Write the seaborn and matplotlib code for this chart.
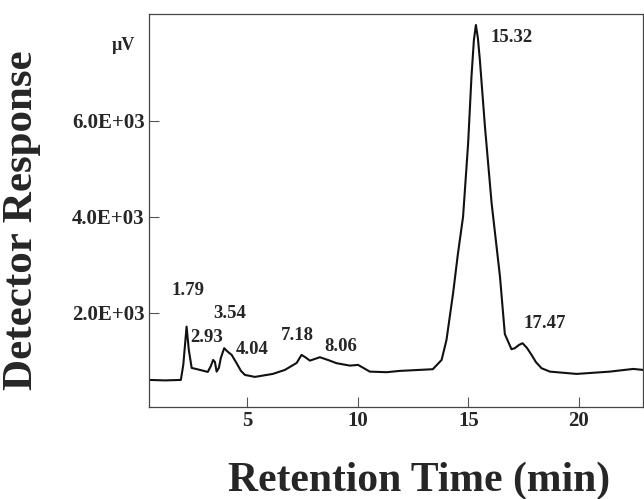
import pandas as pd
import matplotlib
matplotlib.use("Agg")
import matplotlib.pyplot as plt
import seaborn as sns

# chromatogram trace (min, µV)
time_min = [0.55, 1.27, 1.99, 2.10, 2.25, 2.35, 2.48, 2.85, 3.21, 3.35, 3.45, 3.53,
            3.61, 3.71, 3.80, 3.95, 4.12, 4.29, 4.48, 4.71, 4.89, 5.34, 6.15, 6.70,
            7.23, 7.45, 7.60, 7.83, 8.28, 8.64, 9.04, 9.64, 10.01, 10.54, 11.30, 11.90,
            13.39, 13.79, 14.01, 14.31, 14.52, 14.76, 14.99, 15.14, 15.25, 15.34, 15.43,
            15.52, 15.75, 16.05, 16.43, 16.65, 16.95, 17.10, 17.29, 17.45, 17.65, 17.86,
            18.05, 18.31, 18.69, 19.90, 21.40, 22.46, 22.90]
response = [604, 594, 604, 917, 1715, 1229, 854, 813, 771, 896, 1021, 979,
            777, 854, 1063, 1265, 1188, 1125, 979, 792, 708, 667, 729, 813,
            958, 1125, 1083, 1006, 1077, 1021, 952, 902, 917, 777, 765, 792,
            827, 1021, 1438, 2417, 3208, 4006, 5542, 6923, 7688, 8000, 7729,
            7271, 5881, 4292, 2756, 1560, 1244, 1265, 1333, 1369, 1271, 1125,
            979, 848, 777, 729, 777, 833, 813]

# peak labels and where they sit
peak_labels = ["1.79", "2.93", "3.54", "4.04", "7.18", "8.06", "15.32", "17.47"]
label_x = [2.31, 3.17, 4.21, 5.20, 7.28, 9.25, 16.95, 18.46]
label_y = [2465, 1479, 1979, 1229, 1521, 1292, 7744, 1771]

yticks = [2000, 4000, 6000]
ytick_labels = ["2.0E+03", "4.0E+03", "6.0E+03"]
xticks = [5, 10, 15, 20]

sns.set_style("ticks")
plt.rcParams["font.family"] = ["Liberation Serif", "DejaVu Serif"]
plt.rcParams["font.weight"] = "bold"

df = pd.DataFrame({"t": time_min, "r": response})

fig = plt.figure(figsize=(6.44, 4.99), dpi=100)
ax = fig.add_axes([0.2314, 0.1844, 0.767, 0.7876])
sns.lineplot(data=df, x="t", y="r", color="#111111", linewidth=1.5, ax=ax)

for lab, x, y in zip(peak_labels, label_x, label_y):
    ax.text(x, y, lab, ha="center", va="center", fontsize=13.5, fontweight="bold")

ax.text(-0.052, 0.92, "µV", transform=ax.transAxes, ha="center", va="center",
        fontsize=13, fontweight="bold")

ax.set_xlim(0.55, 22.9)
ax.set_ylim(40, 8230)
ax.set_xticks(xticks)
ax.set_yticks(yticks)
ax.set_yticklabels(ytick_labels)
ax.tick_params(axis="both", direction="in", length=7, width=0.8, pad=3,
               labelsize=15, color="#555555")
for s in ax.spines.values():
    s.set_linewidth(0.9)
    s.set_color("#444444")

ax.set_xlabel("Retention Time (min)", fontsize=30, fontweight="bold")
ax.set_ylabel("Detector Response", fontsize=31, fontweight="bold")
ax.xaxis.set_label_coords(0.547, -0.14)
ax.yaxis.set_label_coords(-0.218, 0.475)

fig.savefig("out.png", dpi=100)
